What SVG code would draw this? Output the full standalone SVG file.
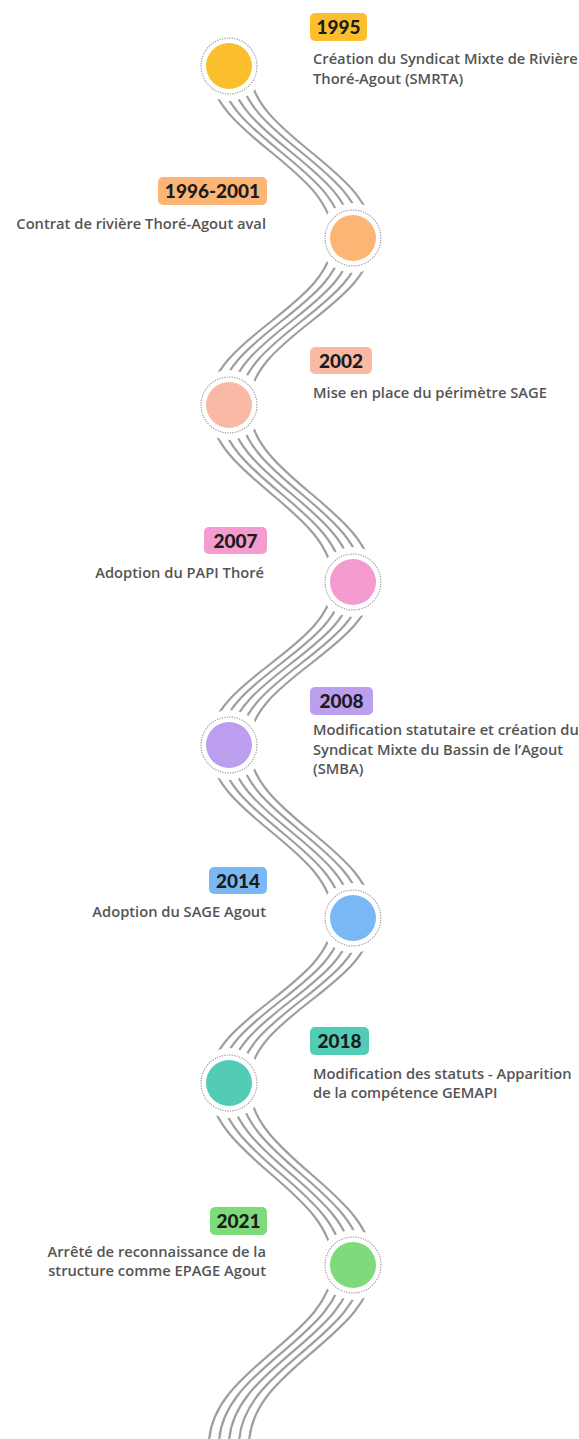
<svg xmlns="http://www.w3.org/2000/svg" width="579" height="1439" viewBox="0 0 579 1439">
<style>
.ring{fill:none;stroke:#9a9a9a;stroke-width:1.3;stroke-dasharray:0.1 2.4;stroke-linecap:round}
.yr{font-family:Lato,"Open Sans",sans-serif;font-weight:900;font-size:19px;fill:#1c1c1c}
.tx{font-family:"Open Sans","Noto Sans",sans-serif;font-weight:600;font-size:14.7px;fill:#555555}
.r{text-anchor:end}
.ln{fill:none;stroke:#9e9e9e;stroke-width:2.2}
</style>
<defs>
<mask id="m" maskUnits="userSpaceOnUse" x="0" y="0" width="579" height="1439">
<rect x="0" y="0" width="579" height="1439" fill="#fff"/>
<circle cx="229" cy="66" r="35" fill="#000"/>
<circle cx="353" cy="238" r="35" fill="#000"/>
<circle cx="229" cy="405" r="35" fill="#000"/>
<circle cx="353" cy="582" r="35" fill="#000"/>
<circle cx="229" cy="745" r="35" fill="#000"/>
<circle cx="353" cy="918" r="35" fill="#000"/>
<circle cx="229" cy="1083" r="35" fill="#000"/>
<circle cx="353" cy="1265" r="35" fill="#000"/>
</mask>
<g id="wave">
<path d="M229,66 C229,137 353,167 353,238"/>
<path d="M353,238 C353,307 229,336 229,405"/>
<path d="M229,405 C229,478 353,509 353,582"/>
<path d="M353,582 C353,649 229,678 229,745"/>
<path d="M229,745 C229,816 353,847 353,918"/>
<path d="M353,918 C353,986 229,1015 229,1083"/>
<path d="M229,1083 C229,1158 353,1190 353,1265"/>
<path d="M353,1265 C353,1337 229,1368 229,1445"/>
</g>
</defs>
<g id="connectors" class="ln" mask="url(#m)">
<use href="#wave" x="-20"/>
<use href="#wave" x="-10"/>
<use href="#wave"/>
<use href="#wave" x="10"/>
<use href="#wave" x="20"/>
</g>
<g id="n1995">
<circle cx="229" cy="66" r="23" fill="#FBBF2D"/>
<circle class="ring" cx="229" cy="66" r="28"/>
<rect x="310" y="13" width="57" height="28" rx="5" fill="#FBBF2D"/>
<text class="yr" x="338.5" y="34" text-anchor="middle">1995</text>
<text class="tx" x="313" y="64">Création du Syndicat Mixte de Rivière</text>
<text class="tx" x="313" y="83.5">Thoré-Agout (SMRTA)</text>
</g>
<g id="n1996">
<circle cx="353" cy="238" r="23" fill="#FDB575"/>
<circle class="ring" cx="353" cy="238" r="28"/>
<rect x="158" y="177" width="109" height="28" rx="5" fill="#FDB575"/>
<text class="yr" x="212.5" y="198" text-anchor="middle">1996-2001</text>
<text class="tx r" x="266" y="229">Contrat de rivière Thoré-Agout aval</text>
</g>
<g id="n2002">
<circle cx="229" cy="405" r="23" fill="#F9B9A4"/>
<circle class="ring" cx="229" cy="405" r="28"/>
<rect x="310" y="347" width="62" height="27" rx="5" fill="#F9B9A4"/>
<text class="yr" x="341" y="367.5" text-anchor="middle">2002</text>
<text class="tx" x="313" y="398">Mise en place du périmètre SAGE</text>
</g>
<g id="n2007">
<circle cx="353" cy="582" r="23" fill="#F49BCF"/>
<circle class="ring" cx="353" cy="582" r="28"/>
<rect x="204" y="527" width="63" height="27" rx="5" fill="#F49BCF"/>
<text class="yr" x="235.5" y="547.5" text-anchor="middle">2007</text>
<text class="tx r" x="264" y="578">Adoption du PAPI Thoré</text>
</g>
<g id="n2008">
<circle cx="229" cy="745" r="23" fill="#BB9EEE"/>
<circle class="ring" cx="229" cy="745" r="28"/>
<rect x="310" y="687" width="63" height="28" rx="5" fill="#BB9EEE"/>
<text class="yr" x="341.5" y="708" text-anchor="middle">2008</text>
<text class="tx" x="313" y="735">Modification statutaire et création du</text>
<text class="tx" x="313" y="754.5">Syndicat Mixte du Bassin de l’Agout</text>
<text class="tx" x="313" y="774">(SMBA)</text>
</g>
<g id="n2014">
<circle cx="353" cy="918" r="23" fill="#7AB8F5"/>
<circle class="ring" cx="353" cy="918" r="28"/>
<rect x="209" y="867" width="58" height="27" rx="5" fill="#7AB8F5"/>
<text class="yr" x="238" y="887.5" text-anchor="middle">2014</text>
<text class="tx r" x="266" y="917">Adoption du SAGE Agout</text>
</g>
<g id="n2018">
<circle cx="229" cy="1083" r="23" fill="#52CCB5"/>
<circle class="ring" cx="229" cy="1083" r="28"/>
<rect x="310" y="1027" width="59" height="28" rx="5" fill="#52CCB5"/>
<text class="yr" x="339.5" y="1048" text-anchor="middle">2018</text>
<text class="tx" x="313" y="1078.5">Modification des statuts - Apparition</text>
<text class="tx" x="313" y="1098">de la compétence GEMAPI</text>
</g>
<g id="n2021">
<circle cx="353" cy="1265" r="23" fill="#7EDB7B"/>
<circle class="ring" cx="353" cy="1265" r="28"/>
<rect x="210" y="1207" width="57" height="28" rx="5" fill="#7EDB7B"/>
<text class="yr" x="238.5" y="1228" text-anchor="middle">2021</text>
<text class="tx r" x="266" y="1257">Arrêté de reconnaissance de la</text>
<text class="tx r" x="266" y="1276">structure comme EPAGE Agout</text>
</g>
</svg>
